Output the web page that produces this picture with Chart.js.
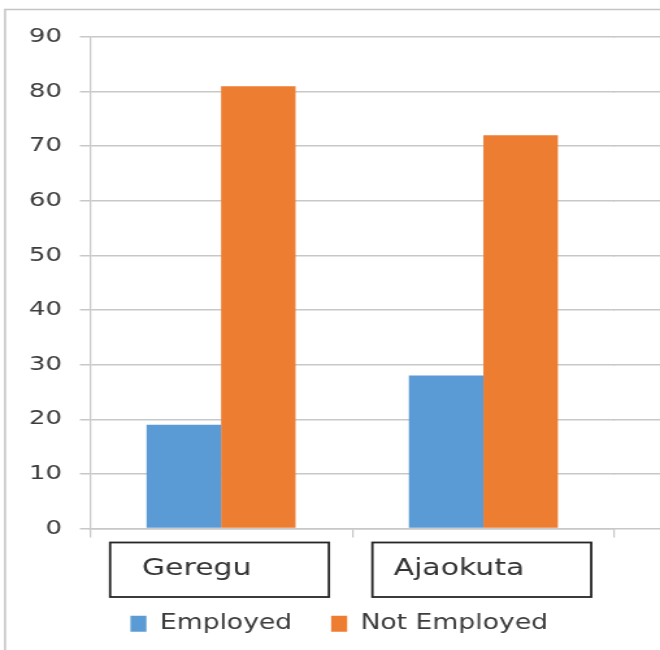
<!DOCTYPE html>
<html>
<head>
<meta charset="utf-8">
<script src="https://cdn.jsdelivr.net/npm/chart.js@4"></script>
<style>
  html, body { margin: 0; padding: 0; background: #fff; }
  #chart { display: block; }
</style>
</head>
<body>
<!-- the reference picture is stretched sideways, so draw narrow and stretch -->
<canvas id="chart" width="508" height="650" style="width:660px;height:650px"></canvas>
<script>
const categories = ["Geregu", "Ajaokuta"];
const seriesNames = ["Employed", "Not Employed"];
const employed = [19, 28];
const notEmployed = [81, 72];
const yMin = 0;
const yMax = 90;
const yStep = 10;

const gridColor = "#c8c8c8";
const textColor = "#3c3c3c";

// same snapping chart.js uses for its own gridlines
function alignPixel(pixel, width) {
  const half = width / 2;
  return Math.round(pixel - half) + half;
}

// frame round the picture + gridlines running on to the right edge
const framePlugin = {
  id: "frame",
  afterLayout(chart) {
    // legend sits a bit left of the plot centre in the reference
    chart.legend.left -= 10;
    chart.legend.right -= 10;
  },
  beforeDraw(chart) {
    const { ctx, width, height } = chart;
    ctx.save();
    ctx.fillStyle = "#fff";
    ctx.fillRect(0, 0, width, height);
    ctx.strokeStyle = "#c4c4c4";
    ctx.lineWidth = 1.5;
    ctx.beginPath();
    ctx.moveTo(3.9, height);
    ctx.lineTo(3.9, 9.5);
    ctx.lineTo(width, 9.5);
    ctx.stroke();

    const y = chart.scales.y;
    ctx.strokeStyle = gridColor;
    ctx.lineWidth = 1.5;
    y.ticks.forEach(t => {
      const py = alignPixel(y.getPixelForValue(t.value), 1.5);
      ctx.beginPath();
      ctx.moveTo(chart.chartArea.right - 1, py);
      ctx.lineTo(width, py);
      ctx.stroke();
    });
    ctx.restore();
  }
};

// boxes drawn round the category names
const labelBoxPlugin = {
  id: "labelBoxes",
  afterDraw(chart) {
    const { ctx } = chart;
    const x = chart.scales.x;
    ctx.save();
    ctx.strokeStyle = "#262626";
    ctx.lineWidth = 1.8;
    categories.forEach((c, i) => {
      const cx = x.getPixelForValue(i) - 1.2;
      ctx.strokeRect(cx - 84.2, x.top + 14, 168.4, 54.5);
    });
    ctx.restore();
  }
};

new Chart(document.getElementById("chart"), {
  type: "bar",
  data: {
    labels: categories,
    datasets: [
      { label: seriesNames[0], data: employed, backgroundColor: "#5b9bd5" },
      { label: seriesNames[1], data: notEmployed, backgroundColor: "#ed7d31" }
    ]
  },
  options: {
    responsive: false,
    devicePixelRatio: 1,
    animation: false,
    layout: { padding: { top: 37, right: 35, bottom: 6, left: 0 } },
    datasets: {
      bar: { categoryPercentage: 0.568, barPercentage: 1.0, borderWidth: 0 }
    },
    plugins: {
      legend: {
        position: "bottom",
        fullSize: false,
        labels: {
          boxWidth: 12.3,
          boxHeight: 16,
          padding: 30,
          color: textColor,
          font: { family: "DejaVu Sans", size: 20.5 }
        }
      },
      tooltip: { enabled: false }
    },
    scales: {
      x: {
        grid: {
          display: true,
          drawOnChartArea: false,
          drawTicks: true,
          tickLength: 9,
          color: gridColor,
          lineWidth: 1.2
        },
        border: { display: true, color: gridColor, width: 1.5 },
        ticks: {
          color: "#333",
          padding: 18,
          labelOffset: -18.8,
          font: { family: "DejaVu Sans", size: 23 }
        },
        afterFit(scale) { scale.height = 55; }
      },
      y: {
        min: yMin,
        max: yMax,
        grid: {
          color: gridColor,
          lineWidth: 1.5,
          drawTicks: true,
          tickLength: 7.7
        },
        border: { display: true, color: gridColor, width: 1.2 },
        ticks: {
          stepSize: yStep,
          color: textColor,
          padding: 13.8,
          font: { family: "DejaVu Sans", size: 20 }
        },
        afterFit(scale) { scale.width = 69.2; }
      }
    }
  },
  plugins: [framePlugin, labelBoxPlugin]
});
</script>
</body>
</html>
